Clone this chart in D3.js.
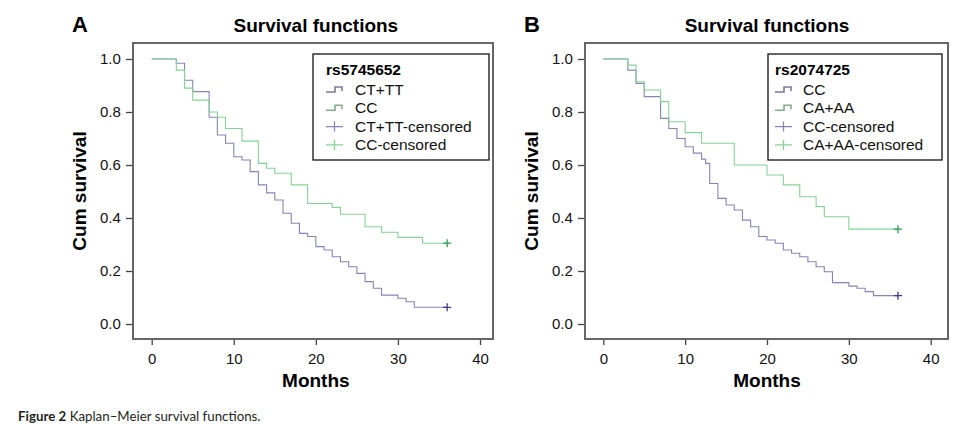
<!DOCTYPE html>
<html>
<head>
<meta charset="utf-8">
<script src="https://cdn.jsdelivr.net/npm/d3@7"></script>
<style>
  body { margin: 0; background: #fff; }
  svg { display: block; font-family: "Liberation Sans", Arial, sans-serif; }
</style>
</head>
<body>
<svg id="chart"></svg>
<script>
// panel A: rs5745652
const aTimesCTTT = [0, 3, 4, 5, 7, 8, 9, 10, 11, 12, 13, 14, 15, 16, 17, 18, 19, 20, 21, 22, 23, 24, 25, 26, 27, 28, 30, 31, 32];
const aSurvCTTT  = [1, 0.984, 0.92, 0.877, 0.78, 0.713, 0.682, 0.631, 0.619, 0.575, 0.525, 0.495, 0.468, 0.418, 0.38, 0.342, 0.33, 0.292, 0.279, 0.254, 0.235, 0.216, 0.191, 0.16, 0.135, 0.109, 0.097, 0.084, 0.063];
const aTimesCC   = [0, 3, 4, 5, 7, 8, 9, 11, 13, 14, 15, 17, 19, 22, 23, 26, 28, 30, 33];
const aSurvCC    = [1, 0.958, 0.89, 0.845, 0.80, 0.78, 0.738, 0.69, 0.606, 0.588, 0.569, 0.525, 0.455, 0.44, 0.414, 0.367, 0.346, 0.327, 0.305];

// panel B: rs2074725
const bTimesCC   = [0, 3, 4, 5, 7, 8, 9, 10, 11, 12, 12.5, 13, 14, 15, 16, 17, 18, 19, 20, 21, 22, 23, 24, 25, 26, 27, 28, 30, 31, 32, 33];
const bSurvCC    = [1, 0.958, 0.908, 0.858, 0.776, 0.738, 0.70, 0.669, 0.645, 0.622, 0.606, 0.53, 0.474, 0.449, 0.43, 0.392, 0.367, 0.33, 0.317, 0.305, 0.279, 0.267, 0.254, 0.235, 0.216, 0.197, 0.156, 0.143, 0.135, 0.122, 0.107];
const bTimesCAAA = [0, 3, 4, 5, 7, 8, 10, 12, 16, 20, 22, 24, 26, 27, 30];
const bSurvCAAA  = [1, 0.977, 0.914, 0.883, 0.839, 0.763, 0.722, 0.682, 0.60, 0.562, 0.525, 0.48, 0.443, 0.405, 0.358];

const censorTime = 36;
const xTicks = [0, 10, 20, 30, 40];
const yTicks = [0, 0.2, 0.4, 0.6, 0.8, 1.0];

const blueLine = "#8585b5", greenLine = "#86d296";
const blueMark = "#3a3a8a", greenMark = "#2f9f50";

const W = 953, H = 426;
const svg = d3.select("#chart").attr("width", W).attr("height", H);

function drawPanel(opts) {
  const g = svg.append("g");
  const fL = opts.frameL, fR = opts.frameR, fT = 43, fB = 339;

  const x = d3.scaleLinear().domain([0, 40]).range([opts.x0, opts.x40]);
  const y = d3.scaleLinear().domain([0, 1]).range([324, 59]);

  // letter + title
  g.append("text").attr("x", fL - 61).attr("y", 32)
    .attr("font-size", 22).attr("font-weight", "bold").text(opts.letter);
  g.append("text").attr("x", (opts.x0 + opts.x40) / 2).attr("y", 32)
    .attr("text-anchor", "middle").attr("font-size", 19).attr("font-weight", "bold")
    .text("Survival functions");

  // axes
  const xa = g.append("g").attr("transform", `translate(0,${fB})`)
    .call(d3.axisBottom(x).tickValues(xTicks).tickSize(6).tickSizeOuter(0));
  const ya = g.append("g").attr("transform", `translate(${fL},0)`)
    .call(d3.axisLeft(y).tickValues(yTicks).tickFormat(d3.format(".1f")).tickSize(7).tickSizeOuter(0));
  [xa, ya].forEach(a => {
    a.select(".domain").remove();
    a.selectAll("line").attr("stroke", "#444").attr("stroke-width", 1.3);
    a.selectAll("text").attr("font-size", 15).attr("fill", "#111")
      .attr("font-family", "'Liberation Sans', Arial, sans-serif");
  });
  xa.selectAll("text").attr("dy", "1.05em");
  ya.selectAll("text").attr("dx", "-0.15em");

  g.append("text").attr("x", (opts.x0 + opts.x40) / 2).attr("y", 387)
    .attr("text-anchor", "middle").attr("font-size", 19).attr("font-weight", "bold").text("Months");
  g.append("text").attr("transform", `translate(${fL - 47},${(fT + fB) / 2}) rotate(-90)`)
    .attr("text-anchor", "middle").attr("font-size", 19).attr("font-weight", "bold").text("Cum survival");

  // survival steps
  const line = d3.line().x(d => x(d[0])).y(d => y(d[1])).curve(d3.curveStepAfter);
  opts.series.forEach(s => {
    const pts = s.times.map((t, i) => [t, s.surv[i]]);
    pts.push([censorTime, s.surv[s.surv.length - 1]]);
    g.append("path").datum(pts).attr("d", line)
      .attr("fill", "none").attr("stroke", s.color).attr("stroke-width", 1.1);
    const cx = x(censorTime), cy = y(s.surv[s.surv.length - 1]);
    g.append("path").attr("d", `M${cx - 4},${cy}H${cx + 4}M${cx},${cy - 4}V${cy + 4}`)
      .attr("stroke", s.mark).attr("stroke-width", 1.3);
  });

  // frame
  g.append("rect").attr("x", fL).attr("y", fT).attr("width", fR - fL).attr("height", fB - fT)
    .attr("fill", "none").attr("stroke", "#666").attr("stroke-width", 2);

  // legend
  const lg = g.append("g");
  lg.append("rect").attr("x", opts.legL).attr("y", 54).attr("width", opts.legR - opts.legL).attr("height", 106)
    .attr("fill", "#fff").attr("stroke", "#111").attr("stroke-width", 1.3);
  lg.append("text").attr("x", opts.legL + opts.legPad).attr("y", 75)
    .attr("font-size", 15.5).attr("font-weight", "bold").text(opts.legTitle);
  const gx = opts.legL + opts.legPad;
  const rows = [
    { label: opts.series[0].name, color: "#7a7a96", step: true },
    { label: opts.series[1].name, color: "#86aa90", step: true },
    { label: opts.series[0].name + "-censored", color: opts.series[0].color, step: false },
    { label: opts.series[1].name + "-censored", color: opts.series[1].color, step: false }
  ];
  rows.forEach((r, i) => {
    const by = 95 + i * 18.3, cy = by - 5;
    if (r.step) {
      lg.append("path").attr("d", `M${gx},${cy + 2}H${gx + 9}V${cy - 3}H${gx + 16}V${cy + 1}`)
        .attr("fill", "none").attr("stroke", r.color).attr("stroke-width", 1.6);
    } else {
      lg.append("path").attr("d", `M${gx},${cy}H${gx + 17}M${gx + 8.5},${cy - 5}V${cy + 5}`)
        .attr("stroke", r.color).attr("stroke-width", 1.3);
    }
    lg.append("text").attr("x", opts.legText).attr("y", by)
      .attr("font-size", 15.5).attr("fill", "#111").text(r.label);
  });
}

drawPanel({
  letter: "A", frameL: 133, frameR: 493, x0: 151.7, x40: 480,
  legL: 313, legR: 489, legPad: 13, legText: 355, legTitle: "rs5745652",
  series: [
    { name: "CT+TT", times: aTimesCTTT, surv: aSurvCTTT, color: blueLine, mark: blueMark },
    { name: "CC", times: aTimesCC, surv: aSurvCC, color: greenLine, mark: greenMark }
  ]
});

drawPanel({
  letter: "B", frameL: 585, frameR: 948, x0: 603.3, x40: 930.7,
  legL: 768, legR: 942, legPad: 7, legText: 803, legTitle: "rs2074725",
  series: [
    { name: "CC", times: bTimesCC, surv: bSurvCC, color: blueLine, mark: blueMark },
    { name: "CA+AA", times: bTimesCAAA, surv: bSurvCAAA, color: greenLine, mark: greenMark }
  ]
});

// caption
const cap = svg.append("text").attr("x", 18).attr("y", 421)
  .attr("font-family", "Lato, 'Open Sans', sans-serif").attr("font-size", 13.3).attr("fill", "#231f20");
cap.append("tspan").attr("font-weight", "bold").text("Figure 2");
cap.append("tspan").text(" Kaplan–Meier survival functions.");
</script>
</body>
</html>
